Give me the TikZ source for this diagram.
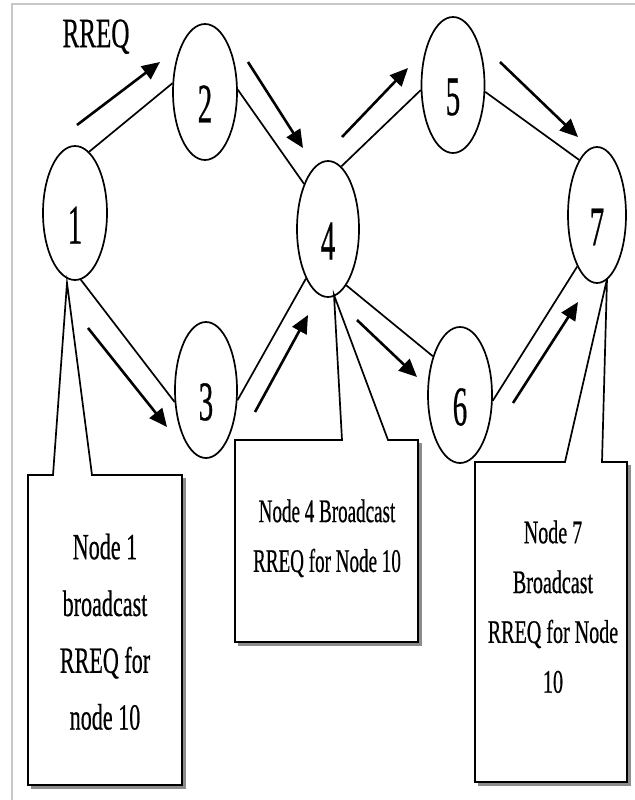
\documentclass[tikz,border=0pt]{standalone}
\usepackage{fontspec}
\setmainfont{Liberation Serif}
\newfontfamily\boxfont[FakeBold=0.7]{Liberation Serif}
\usepackage{graphicx}
\usetikzlibrary{shapes.geometric,arrows.meta}
\newcommand{\sqz}[4]{\scalebox{#1}[1]{\boxfont\fontsize{#2}{#3}\selectfont\begin{tabular}{@{}c@{}}#4\end{tabular}}}
\tikzset{
  nd/.style={ellipse, draw=black, line width=1.7bp, inner sep=0pt},
  dig/.style={yshift=-12bp, font=\boxfont\fontsize{56}{60}\selectfont, xscale=0.52, inner sep=0pt},
  edge/.style={draw=black, line width=1.7bp},
  sendarrow/.style={draw=black, line width=2.6bp, -{Triangle[length=18bp,width=16bp]}},
  callout/.style={draw=black, fill=white, line width=1.7bp, line join=miter},
  shadowbox/.style={fill=black!45, draw=none},
  frameline/.style={draw=black!22, line width=1.6bp},
  txt/.style={inner sep=0pt}
}
\begin{document}
\begin{tikzpicture}[x=1bp,y=-1bp]
\useasboundingbox (0,0) rectangle (635,800);
% frame
\draw[frameline] (12,800) -- (12,4) -- (635,4);

% callout boxes
\fill[shadowbox] (31,478) rectangle (186,789);
\draw[callout] (28,475) -- (53,475) -- (67,283) -- (92,475) -- (182,475) -- (182,785) -- (28,785) -- cycle;
\fill[shadowbox] (238,443) rectangle (422,646);
\draw[callout] (235,440) -- (342,440) -- (334,295) -- (388,440) -- (418,440) -- (418,642) -- (235,642) -- cycle;
\fill[shadowbox] (478,465) rectangle (631,786);
\draw[callout] (475,462) -- (565,462) -- (607,279) -- (602,462) -- (627,462) -- (627,782) -- (475,782) -- cycle;

\node[txt] (t1) at (105,633) {\sqz{0.6}{37}{57}{Node 1\\broadcast\\RREQ for\\node 10}};
\node[txt] (t4) at (327,537) {\sqz{0.58}{33}{50}{Node 4 Broadcast\\RREQ for Node 10}};
\node[txt] (t7) at (553,608) {\sqz{0.61}{33}{50}{Node 7\\Broadcast\\RREQ for Node\\10}};

% nodes
\node[nd, minimum width=64bp, minimum height=134bp, label={[dig]center:1}] (n1) at (75,213) {};
\node[nd, minimum width=64bp, minimum height=136bp, label={[dig]center:2}] (n2) at (205,92) {};
\node[nd, minimum width=62bp, minimum height=136bp, label={[dig]center:3}] (n3) at (206,390) {};
\node[nd, minimum width=62bp, minimum height=136bp, label={[dig]center:4}] (n4) at (328,229) {};
\node[nd, minimum width=63bp, minimum height=136bp, label={[dig]center:5}] (n5) at (453,85) {};
\node[nd, minimum width=64bp, minimum height=136bp, label={[dig]center:6}] (n6) at (460,395) {};
\node[nd, minimum width=58bp, minimum height=136bp, label={[dig]center:7}] (n7) at (597,215) {};

% RREQ label
\node[txt] (rreq) at (96,38) {\sqz{0.6}{42}{46}{RREQ}};

% links
\draw[edge] (n1.77) -- (n2.165);
\draw[edge] (n2.4) -- (n4.118);
\draw[edge] (n4.78) -- (n5.189);
\draw[edge] (n5.348) -- (n7.108);
\draw[edge] (n1.275) -- (n3.201);
\draw[edge] (n3.342) -- (n4.246);
\draw[edge] (n4.288) -- (n6.125);
\draw[edge] (n6.350) -- (n7.249);

% broadcast arrows
\coordinate (a12s) at (77,125);  \coordinate (a12e) at (160,62);
\coordinate (a24s) at (248,62);  \coordinate (a24e) at (303,148);
\coordinate (a45s) at (342,137); \coordinate (a45e) at (408,68);
\coordinate (a57s) at (500,62);  \coordinate (a57e) at (578,137);
\coordinate (a13s) at (88,328);  \coordinate (a13e) at (167,427);
\coordinate (a34s) at (255,412); \coordinate (a34e) at (308,315);
\coordinate (a46s) at (357,320); \coordinate (a46e) at (417,377);
\coordinate (a67s) at (513,403); \coordinate (a67e) at (578,302);
\draw[sendarrow] (a12s) -- (a12e);
\draw[sendarrow] (a24s) -- (a24e);
\draw[sendarrow] (a45s) -- (a45e);
\draw[sendarrow] (a57s) -- (a57e);
\draw[sendarrow] (a13s) -- (a13e);
\draw[sendarrow] (a34s) -- (a34e);
\draw[sendarrow] (a46s) -- (a46e);
\draw[sendarrow] (a67s) -- (a67e);
\end{tikzpicture}
\end{document}
